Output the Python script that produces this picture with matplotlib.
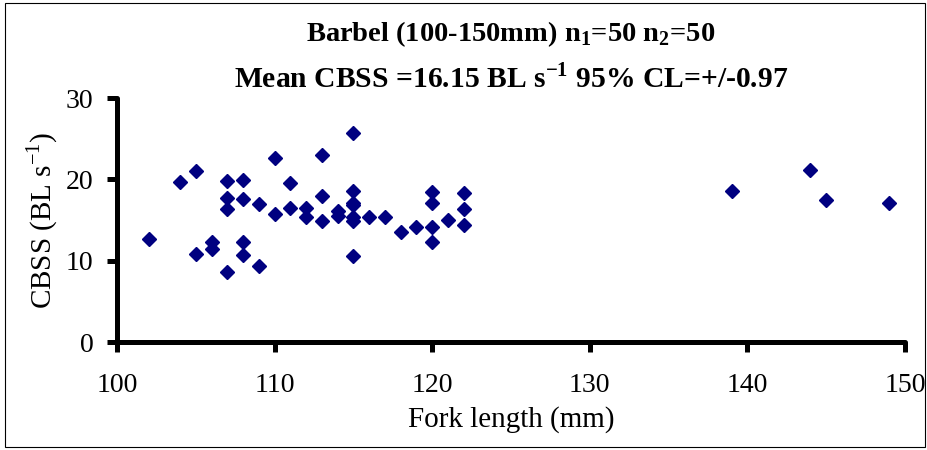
import matplotlib
matplotlib.use('Agg')
import matplotlib.pyplot as plt
from matplotlib.patches import Rectangle

plt.rcParams['font.family'] = ['Liberation Serif', 'DejaVu Serif']
plt.rcParams['mathtext.fontset'] = 'custom'
plt.rcParams['mathtext.rm'] = 'Liberation Serif'
plt.rcParams['mathtext.bf'] = 'Liberation Serif:bold'

# data
fork_length = [102, 104, 105, 105, 106, 106, 107, 107, 107, 107,
               108, 108, 108, 108, 109, 109, 110, 110, 111, 111,
               112, 112, 113, 113, 113, 114, 114, 115, 115, 115,
               115, 115, 115, 115, 116, 117, 118, 119, 120, 120,
               120, 120, 121, 122, 122, 122, 139, 144, 145, 149]
cbss = [12.7, 19.7, 21.0, 10.8, 12.3, 11.4, 19.8, 17.7, 16.4, 8.6,
        19.9, 17.6, 12.3, 10.7, 17.0, 9.4, 22.6, 15.7, 19.5, 16.5,
        16.5, 15.4, 23.0, 17.9, 14.9, 16.1, 15.5, 25.7, 18.6, 17.1,
        16.8, 15.4, 14.9, 10.6, 15.4, 15.4, 13.5, 14.2, 18.4, 17.1,
        14.2, 12.3, 15.0, 18.3, 16.4, 14.4, 18.6, 21.2, 17.5, 17.1]

x_ticks = [100, 110, 120, 130, 140, 150]
y_ticks = [0, 10, 20, 30]

fig = plt.figure(figsize=(9.27, 4.5), dpi=100)
ax = fig.add_axes([117 / 927, 1 - 342 / 450, (905 - 117) / 927, (342 - 98) / 450])

ax.plot(fork_length, cbss, linestyle='none', marker='D', markersize=7.5,
        color='#000080', clip_on=False)

ax.set_xlim(100, 150)
ax.set_ylim(0, 30)
ax.set_xticks(x_ticks)
ax.set_yticks(y_ticks)

for side in ['top', 'right']:
    ax.spines[side].set_visible(False)
for side in ['left', 'bottom']:
    ax.spines[side].set_linewidth(3.6)
    ax.spines[side].set_capstyle('round')
ax.tick_params(direction='out', length=7, width=3.6, labelsize=20)
ax.tick_params(axis='x', pad=15)
ax.tick_params(axis='y', pad=10)

ax.set_xlabel('Fork length (mm)', fontsize=21, labelpad=6)
ax.set_ylabel(r'CBSS (BL s$^{-1}$)', fontsize=21, labelpad=4)

fig.text(511 / 927, 1 - 41 / 450, r'Barbel (100-150mm) n$_{\mathbf{1}}$=50 n$_{\mathbf{2}}$=50',
         ha='center', va='baseline', fontsize=20.5, fontweight='bold')
fig.text(511 / 927, 1 - 88 / 450, r'Mean CBSS =16.15 BL s$^{\mathbf{-1}}$ 95% CL=+/-0.97',
         ha='center', va='baseline', fontsize=21.3, fontweight='bold')

fig.patches.append(Rectangle((5 / 927, 3 / 450), 920 / 927, 444 / 450, transform=fig.transFigure,
                             fill=False, edgecolor='black', linewidth=0.8))

fig.savefig('out.png', dpi=100)
